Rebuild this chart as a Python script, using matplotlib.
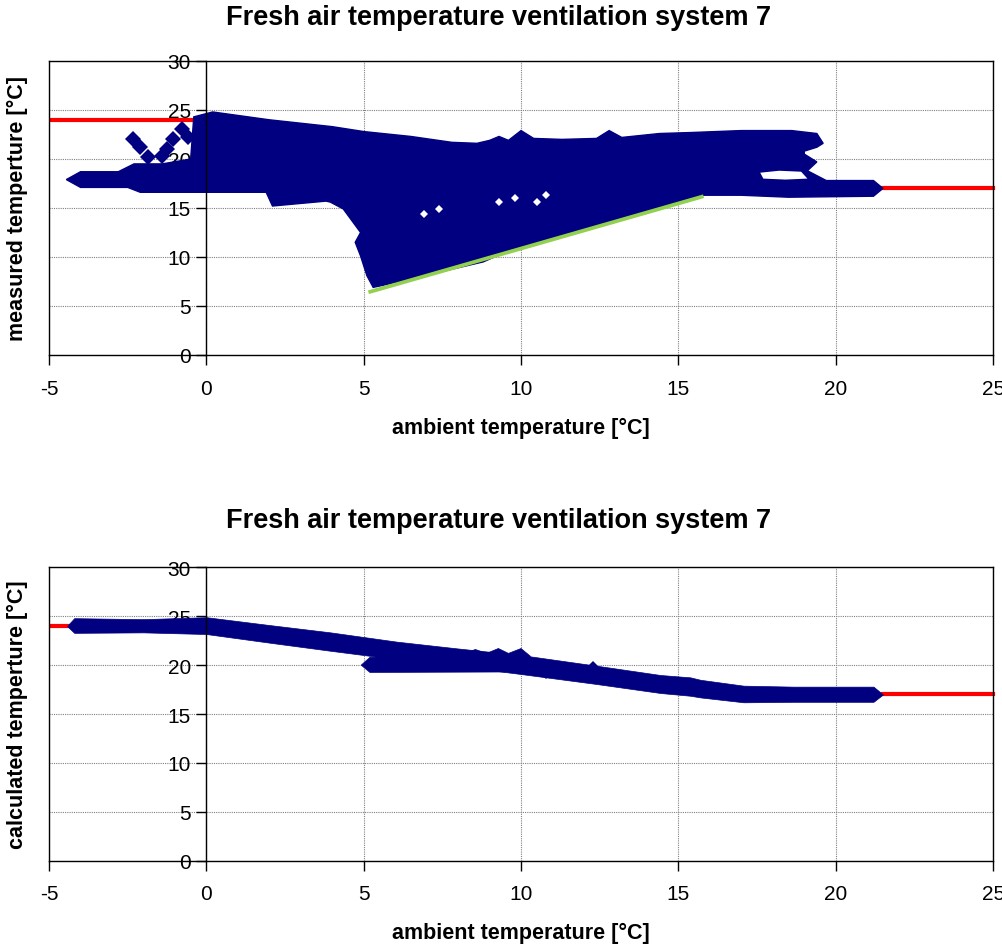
import numpy as np
import matplotlib.pyplot as plt
from matplotlib.patches import Polygon

plt.rcParams['font.family'] = ['Liberation Sans', 'DejaVu Sans']
plt.rcParams['axes.unicode_minus'] = False

NAVY = '#000080'
RED = '#FF0000'
GREEN = '#92D050'

TITLE = 'Fresh air temperature ventilation system 7'

# measured fresh air temperature: outline of the dense point cloud (ambient, measured)
meas_edge_x = [-0.4, 0.2, 2.0, 4.0, 5.0, 6.5, 7.8, 8.6, 9.0, 9.3, 9.6, 10.0, 10.4, 11.3, 12.4,
               12.8, 13.2, 14.4, 15.4, 17.0, 18.6, 19.4, 19.6, 19.4, 19.0, 19.0, 19.4, 19.1,
               19.7, 21.2, 21.5, 21.2, 18.5, 17.0, 15.8, 12.0, 9.5, 8.8, 5.6, 5.3, 5.1, 4.9,
               4.73, 4.9, 4.35, 3.94, 3.8, 2.1, 1.9, 0.0, -2.1, -2.5, -4.0, -4.45, -4.0, -2.8,
               -2.3, -1.4, -0.5]
meas_edge_y = [24.3, 24.8, 24.0, 23.3, 22.8, 22.3, 21.7, 21.6, 21.9, 22.3, 21.9, 22.9, 22.1, 22.0, 22.1,
               22.9, 22.2, 22.6, 22.7, 22.9, 22.9, 22.6, 21.6, 21.2, 20.8, 20.5, 19.7, 18.8,
               17.8, 17.8, 17.0, 16.2, 16.1, 16.3, 16.3, 12.9, 10.5, 9.5, 7.1, 6.9, 8.1, 10.1,
               11.5, 12.5, 14.9, 15.6, 15.7, 15.2, 16.6, 16.6, 16.6, 17.1, 17.1, 17.9, 18.7, 18.7,
               19.5, 19.5, 20.0]

# single points standing out of the cloud
meas_pts_x = [-2.32, -2.1, -1.87, -0.76, -1.05, -1.24, -1.4, -0.6]
meas_pts_y = [22.0, 21.2, 20.2, 23.1, 22.0, 21.0, 20.3, 22.2]

# empty spots inside the cloud
gap_x = [6.9, 7.4, 9.3, 9.8, 10.5, 10.8]
gap_y = [14.4, 14.9, 15.6, 16.0, 15.6, 16.3]
strip_x = [17.6, 18.2, 18.9, 19.1, 18.4, 17.7]
strip_y = [18.6, 18.8, 18.7, 18.0, 17.9, 18.0]

# lower limit line (green) and set point lines (red)
green_x = [5.15, 15.8]
green_y = [6.4, 16.2]
red_lo_x = [-5, 0]
red_lo_y = [24, 24]
red_hi_x = [21.5, 25]
red_hi_y = [17, 17]

# calculated fresh air temperature: band envelope
calc_x = [-4.43, -4.2, -2, 0, 2, 3.94, 6.05, 8, 10, 12.4, 14.43, 15.38, 15.7, 17.07, 18.65, 21.2, 21.5]
calc_top = [24.0, 24.8, 24.7, 24.9, 24.1, 23.35, 22.4, 21.7, 21.03, 19.94, 18.99, 18.75, 18.5, 17.9, 17.8, 17.8, 17.0]
calc_bot = [24.0, 23.3, 23.35, 23.18, 22.3, 21.47, 20.6, 19.9, 19.09, 18.07, 17.15, 16.87, 16.7, 16.2, 16.25, 16.25, 17.0]

# second branch at about 20 degC
calc2_x = [4.92, 5.2, 8.2, 8.55, 8.9, 9.28, 9.6, 10.0, 10.3, 9.5, 5.2]
calc2_y = [20.0, 20.8, 21.2, 21.6, 21.2, 21.7, 21.2, 21.7, 20.9, 19.3, 19.25]
calc_pts_x = [12.3, 10.8]
calc_pts_y = [19.65, 19.45]


def style_axes(ax, ylabel):
    ax.set_xlim(-5, 25)
    ax.set_ylim(0, 30)
    ax.set_xticks(np.arange(-5, 26, 5))
    ax.set_yticks(np.arange(0, 31, 5))
    ax.set_axisbelow(True)
    ax.grid(True, color='#808080', linestyle=(0, (1, 1)), linewidth=0.8)
    ax.spines['left'].set_position(('data', 0))
    for s in ax.spines.values():
        s.set_color('black')
        s.set_linewidth(1.0)
        s.set_zorder(6)
    ax.plot([-5, -5], [0, 30], color='black', lw=1.0, clip_on=False, zorder=6)
    ax.tick_params(axis='x', direction='out', length=7, width=1, pad=10, labelsize=15)
    ax.tick_params(axis='y', direction='out', length=7, width=1, pad=4, labelsize=15)
    ax.set_xlabel('ambient temperature [°C]', fontsize=15.5, fontweight='bold')
    ax.xaxis.set_label_coords(0.5, -0.21)
    ax.set_ylabel(ylabel, fontsize=15.5, fontweight='bold')
    ax.yaxis.set_label_coords(-0.022, 0.5)


fig = plt.figure(figsize=(10.03, 9.45), dpi=100)
ax1 = fig.add_axes([0.0489, 0.6233, 0.9412, 0.3111])
ax2 = fig.add_axes([0.0489, 0.0881, 0.9412, 0.3105])

# top chart
ax1.plot(red_lo_x, red_lo_y, color=RED, lw=3, zorder=2)
ax1.plot(red_hi_x, red_hi_y, color=RED, lw=3, zorder=2, clip_on=False)
ax1.add_patch(Polygon(np.column_stack([meas_edge_x, meas_edge_y]), closed=True,
                      facecolor=NAVY, edgecolor=NAVY, lw=1, zorder=3))
ax1.plot(meas_pts_x, meas_pts_y, 'D', color=NAVY, ms=8, mew=0, zorder=3)
ax1.plot(gap_x, gap_y, 'D', color='white', ms=4, mew=0, zorder=4)
ax1.fill(strip_x, strip_y, color='white', lw=0, zorder=4)
ax1.plot(green_x, green_y, color=GREEN, lw=2.7, zorder=5, solid_capstyle='butt')
style_axes(ax1, 'measured temperture [°C]')

# bottom chart
ax2.plot(red_lo_x, red_lo_y, color=RED, lw=3, zorder=2)
ax2.plot(red_hi_x, red_hi_y, color=RED, lw=3, zorder=2, clip_on=False)
ax2.fill_between(calc_x, calc_bot, calc_top, color=NAVY, lw=0.5, zorder=3)
ax2.fill(calc2_x, calc2_y, color=NAVY, lw=0.5, zorder=3)
ax2.plot(calc_pts_x, calc_pts_y, 'D', color=NAVY, ms=8, mew=0, zorder=3)
style_axes(ax2, 'calculated temperture [°C]')

fig.text(0.497, 1 - 18 / 945, TITLE, ha='center', va='center', fontsize=19.5, fontweight='bold')
fig.text(0.497, 1 - 521 / 945, TITLE, ha='center', va='center', fontsize=19.5, fontweight='bold')

fig.savefig('out.png', dpi=100)
